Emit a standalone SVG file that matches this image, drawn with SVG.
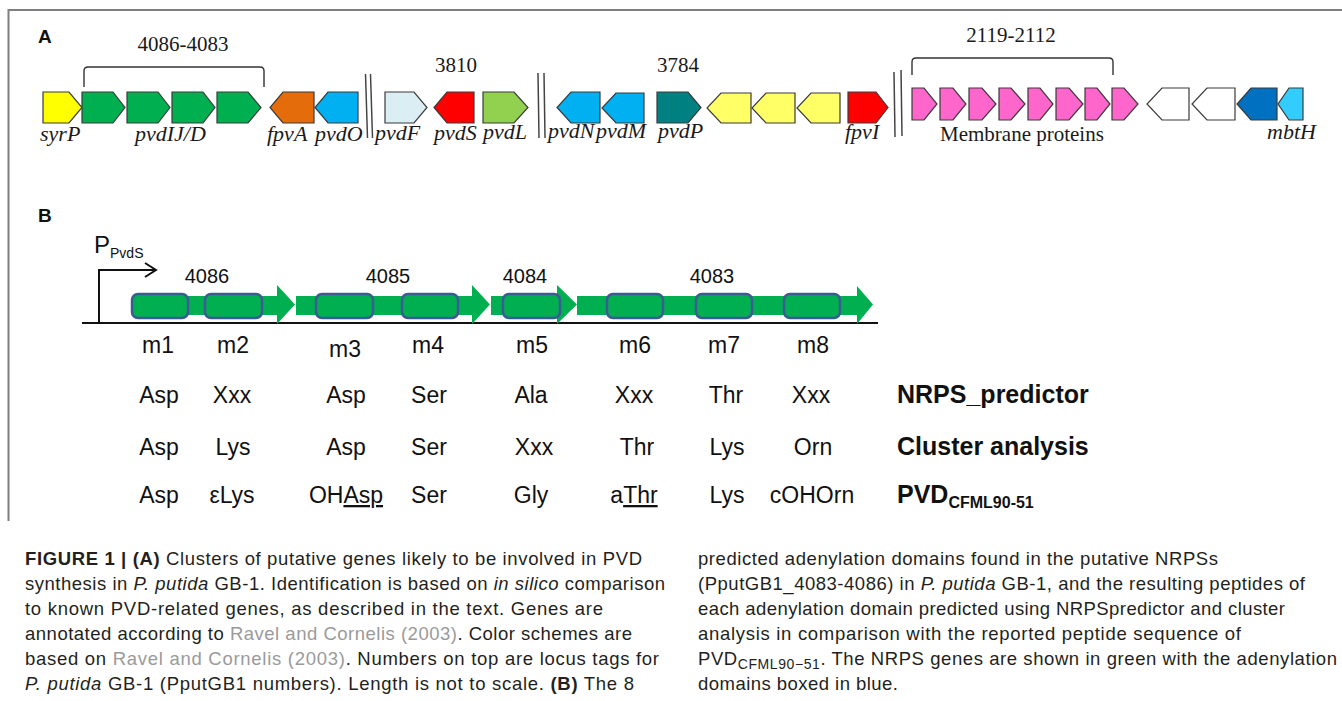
<svg xmlns="http://www.w3.org/2000/svg" width="1342" height="701" viewBox="0 0 1342 701">
<style>
.g{stroke:#3a3a3a;stroke-width:1.2;stroke-linejoin:miter}
.lbl{font-family:'Liberation Serif',serif;font-style:italic;font-size:22px;fill:#1a1a1a}
.num{font-family:'Liberation Serif',serif;font-size:21px;fill:#1a1a1a}
.sl{stroke:#444;stroke-width:1.5}
.br{fill:none;stroke:#333;stroke-width:1.4}
.sans{font-family:'Liberation Sans',Arial,sans-serif;fill:#111}
.aa{font-size:23px;text-anchor:middle}
.bl{font-weight:bold;font-size:25px}
.dom{fill:#00B050;stroke:#3C5A93;stroke-width:2.5}
.nrps{fill:#00B050}
.cap{font-family:'Liberation Sans Narrow','Liberation Sans',Arial,sans-serif;font-size:18.5px;fill:#231F20}
.link{fill:#9a9a9a}
.ln{fill:none;stroke:#111;stroke-width:2}
</style>
<rect width="1342" height="701" fill="#fff"/>
<path d="M8.5,521 V10 H1342" fill="none" stroke="#7f7f7f" stroke-width="2"/>

<g id="panelA">
<text class="sans" x="38" y="43" font-weight="bold" font-size="19">A</text>
<g id="brackets">
<path class="br" d="M84,87 V71 Q84,67 88,67 H260 Q264,67 264,71 V87"/>
<path class="br" d="M912,75 V62 Q912,58 916,58 H1109 Q1113,58 1113,62 V75"/>
</g>
<text class="num" x="183" y="51" text-anchor="middle">4086-4083</text>
<text class="num" x="456" y="72" text-anchor="middle">3810</text>
<text class="num" x="678" y="72" text-anchor="middle">3784</text>
<text class="num" x="1011" y="42" text-anchor="middle">2119-2112</text>

<g id="gene-syrP"><path class="g" fill="#FFFF00" d="M43,92 H69 L82,107.5 L69,123 H43 Z"/><text class="lbl" x="40" y="141">syrP</text></g>
<g id="gene-pvdIJD">
<path class="g" fill="#00B050" d="M82,92 H113 L125,107.5 L113,123 H82 Z"/>
<path class="g" fill="#00B050" d="M127,92 H158 L170,107.5 L158,123 H127 Z"/>
<path class="g" fill="#00B050" d="M172,92 H203 L215,107.5 L203,123 H172 Z"/>
<path class="g" fill="#00B050" d="M217,92 H248 L261,107.5 L248,123 H217 Z"/>
<text class="lbl" x="135" y="141">pvdIJ/D</text></g>
<g id="gene-fpvA"><path class="g" fill="#E46C0A" d="M314,92 H283 L270,107.5 L283,123 H314 Z"/><text class="lbl" x="267" y="141">fpvA</text></g>
<g id="gene-pvdO"><path class="g" fill="#00B0F0" d="M358,92 H328 L315,107.5 L328,123 H358 Z"/><text class="lbl" x="315" y="141">pvdO</text></g>
<g id="break1"><line class="sl" x1="365.5" y1="74" x2="367.5" y2="138"/><line class="sl" x1="370.5" y1="74" x2="372.5" y2="138"/></g>
<g id="gene-pvdF"><path class="g" fill="#DBEEF4" d="M385,92 H414 L427,107.5 L414,123 H385 Z"/><text class="lbl" x="375" y="140">pvdF</text></g>
<g id="gene-pvdS"><path class="g" fill="#FF0000" d="M474,92 H447 L434,107.5 L447,123 H474 Z"/><text class="lbl" x="434" y="140">pvdS</text></g>
<g id="gene-pvdL"><path class="g" fill="#92D050" d="M483,92 H514 L528,107.5 L514,123 H483 Z"/><text class="lbl" x="483" y="139">pvdL</text></g>
<g id="break2"><line class="sl" x1="538" y1="73" x2="539" y2="138"/><line class="sl" x1="544" y1="73" x2="545" y2="138"/></g>
<g id="gene-pvdN"><path class="g" fill="#00B0F0" d="M600,92 H571 L557,107.5 L571,123 H600 Z"/><text class="lbl" x="548" y="138">pvdN</text></g>
<g id="gene-pvdM"><path class="g" fill="#00B0F0" d="M644,93 H616 L602,108 L616,123 H644 Z"/><text class="lbl" x="596" y="138">pvdM</text></g>
<g id="gene-pvdP"><path class="g" fill="#008080" d="M657,92 H688 L701,107.5 L688,123 H657 Z"/><text class="lbl" x="658" y="138">pvdP</text></g>
<g id="genes-yellow">
<path class="g" fill="#FFFF66" d="M751,93 H721 L707,108 L721,123 H751 Z"/>
<path class="g" fill="#FFFF66" d="M795,93 H766 L752,108 L766,123 H795 Z"/>
<path class="g" fill="#FFFF66" d="M840,93 H811 L797,108 L811,123 H840 Z"/>
</g>
<g id="gene-fpvI"><path class="g" fill="#FF0000" d="M848,92 H876 L888,107.5 L876,123 H848 Z"/><text class="lbl" x="845" y="139">fpvI</text></g>
<g id="break3"><line class="sl" x1="894" y1="72" x2="895" y2="137"/><line class="sl" x1="901" y1="70" x2="902" y2="136"/></g>
<g id="genes-membrane">
<path class="g" fill="#FF66CC" d="M912,88 H924 L937,104 L924,120 H912 Z"/>
<path class="g" fill="#FF66CC" d="M940,88 H953 L966,104 L953,120 H940 Z"/>
<path class="g" fill="#FF66CC" d="M969,88 H982 L996,104 L982,120 H969 Z"/>
<path class="g" fill="#FF66CC" d="M999,88 H1011 L1025,104 L1011,120 H999 Z"/>
<path class="g" fill="#FF66CC" d="M1028,88 H1040 L1053,104 L1040,120 H1028 Z"/>
<path class="g" fill="#FF66CC" d="M1056,88 H1069 L1083,104 L1069,120 H1056 Z"/>
<path class="g" fill="#FF66CC" d="M1085,88 H1097 L1110,104 L1097,120 H1085 Z"/>
<path class="g" fill="#FF66CC" d="M1112,88 H1124 L1138,104 L1124,120 H1112 Z"/>
<text class="num" x="940" y="141">Membrane proteins</text>
</g>
<g id="genes-white">
<path class="g" fill="#FFFFFF" d="M1189,88 H1162 L1147,104 L1162,120 H1189 Z"/>
<path class="g" fill="#FFFFFF" d="M1235,88 H1207 L1192,104 L1207,120 H1235 Z"/>
</g>
<g id="gene-darkblue"><path class="g" fill="#0070C0" d="M1277,88 H1251 L1237,104 L1251,120 H1277 Z"/></g>
<g id="gene-mbtH"><path class="g" fill="#33CCFF" d="M1303,88 H1289 L1278,104 L1289,120 H1303 Z"/><text class="lbl" x="1267" y="139">mbtH</text></g>
</g>

<g id="panelB" class="sans">
<text x="38" y="222" font-weight="bold" font-size="19">B</text>
<g id="promoter">
<path class="ln" d="M99,323 V270 H155"/>
<path class="ln" d="M145,263 L156,270 L145,277"/>
<text x="94" y="253" font-size="24">P<tspan font-size="14" dy="5">PvdS</tspan></text>
</g>
<line x1="82" y1="323" x2="878" y2="323" stroke="#111" stroke-width="2"/>
<g id="nrps-4086"><path class="nrps" d="M132,296 H277 V285 L295,304.5 L277,324 V315 H132 Z"/><text x="207" y="283" font-size="20" text-anchor="middle">4086</text></g>
<g id="nrps-4085"><path class="nrps" d="M296,296 H472 V285 L490,304.5 L472,324 V315 H296 Z"/><text x="388" y="283" font-size="20" text-anchor="middle">4085</text></g>
<g id="nrps-4084"><path class="nrps" d="M491,296 H557 V285 L577,304.5 L557,324 V315 H491 Z"/><text x="525" y="283" font-size="20" text-anchor="middle">4084</text></g>
<g id="nrps-4083"><path class="nrps" d="M577,296 H857 V286 L873,304.5 L857,324 V315 H577 Z"/><text x="712" y="283" font-size="20" text-anchor="middle">4083</text></g>
<g id="domains">
<rect class="dom" x="132" y="294" width="56" height="24" rx="6"/>
<rect class="dom" x="205" y="294" width="57" height="24" rx="6"/>
<rect class="dom" x="316" y="294" width="57" height="24" rx="6"/>
<rect class="dom" x="402" y="294" width="56" height="24" rx="6"/>
<rect class="dom" x="503" y="294" width="57" height="24" rx="6"/>
<rect class="dom" x="607" y="294" width="56" height="24" rx="6"/>
<rect class="dom" x="696" y="294" width="56" height="24" rx="6"/>
<rect class="dom" x="784" y="294" width="56" height="24" rx="6"/>
</g>
<g id="module-labels">
<text class="aa" x="158" y="353">m1</text>
<text class="aa" x="233" y="353">m2</text>
<text class="aa" x="345" y="357">m3</text>
<text class="aa" x="428" y="353">m4</text>
<text class="aa" x="532" y="353">m5</text>
<text class="aa" x="635" y="353">m6</text>
<text class="aa" x="724" y="353">m7</text>
<text class="aa" x="813" y="353">m8</text>
</g>
<g id="row-nrps-predictor">
<text class="aa" x="159" y="403">Asp</text>
<text class="aa" x="232" y="403">Xxx</text>
<text class="aa" x="346" y="403">Asp</text>
<text class="aa" x="429" y="403">Ser</text>
<text class="aa" x="531" y="403">Ala</text>
<text class="aa" x="634" y="403">Xxx</text>
<text class="aa" x="726" y="403">Thr</text>
<text class="aa" x="811" y="403">Xxx</text>
<text class="bl" x="897" y="403">NRPS_predictor</text>
</g>
<g id="row-cluster">
<text class="aa" x="159" y="455">Asp</text>
<text class="aa" x="233" y="455">Lys</text>
<text class="aa" x="346" y="455">Asp</text>
<text class="aa" x="429" y="455">Ser</text>
<text class="aa" x="534" y="455">Xxx</text>
<text class="aa" x="637" y="455">Thr</text>
<text class="aa" x="727" y="455">Lys</text>
<text class="aa" x="813" y="455">Orn</text>
<text class="bl" x="897" y="455">Cluster analysis</text>
</g>
<g id="row-pvd">
<text class="aa" x="159" y="503">Asp</text>
<text class="aa" x="232" y="503">εLys</text>
<text class="aa" x="346" y="503">OH<tspan text-decoration="underline">Asp</tspan></text>
<text class="aa" x="429" y="503">Ser</text>
<text class="aa" x="531" y="503">Gly</text>
<text class="aa" x="634" y="503">a<tspan text-decoration="underline">Thr</tspan></text>
<text class="aa" x="727" y="503">Lys</text>
<text class="aa" x="812" y="503">cOHOrn</text>
<text class="bl" x="897" y="503">PVD<tspan font-size="16" dy="5">CFML90-51</tspan></text>
</g>
</g>

<g id="caption">
<text class="cap" x="25" y="565" textLength="617" lengthAdjust="spacing"><tspan font-weight="bold">FIGURE 1 | (A)</tspan> Clusters of putative genes likely to be involved in PVD</text>
<text class="cap" x="25" y="590" textLength="640" lengthAdjust="spacing">synthesis in <tspan font-style="italic">P. putida</tspan> GB-1. Identification is based on <tspan font-style="italic">in silico</tspan> comparison</text>
<text class="cap" x="25" y="615" textLength="578" lengthAdjust="spacing">to known PVD-related genes, as described in the text. Genes are</text>
<text class="cap" x="25" y="640" textLength="607" lengthAdjust="spacing">annotated according to <tspan class="link">Ravel and Cornelis (2003)</tspan>. Color schemes are</text>
<text class="cap" x="25" y="665" textLength="634" lengthAdjust="spacing">based on <tspan class="link">Ravel and Cornelis (2003)</tspan>. Numbers on top are locus tags for</text>
<text class="cap" x="25" y="690" textLength="609" lengthAdjust="spacing"><tspan font-style="italic">P. putida</tspan> GB-1 (PputGB1 numbers). Length is not to scale. <tspan font-weight="bold">(B)</tspan> The 8</text>
<text class="cap" x="698" y="565" textLength="520" lengthAdjust="spacing">predicted adenylation domains found in the putative NRPSs</text>
<text class="cap" x="698" y="590" textLength="607" lengthAdjust="spacing">(PputGB1_4083-4086) in <tspan font-style="italic">P. putida</tspan> GB-1, and the resulting peptides of</text>
<text class="cap" x="698" y="615" textLength="587" lengthAdjust="spacing">each adenylation domain predicted using NRPSpredictor and cluster</text>
<text class="cap" x="698" y="640" textLength="543" lengthAdjust="spacing">analysis in comparison with the reported peptide sequence of</text>
<text class="cap" x="698" y="665" textLength="639" lengthAdjust="spacing">PVD<tspan font-size="14" dy="4">CFML90−51</tspan><tspan dy="-4">. The NRPS genes are shown in green with the adenylation</tspan></text>
<text class="cap" x="698" y="690" textLength="200" lengthAdjust="spacing">domains boxed in blue.</text>
</g>
</svg>
